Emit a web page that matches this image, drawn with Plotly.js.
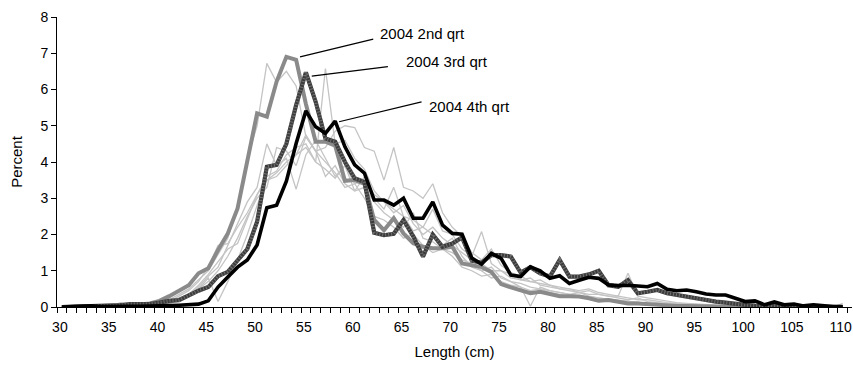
<!DOCTYPE html>
<html>
<head>
<meta charset="utf-8">
<script src="https://cdn.plot.ly/plotly-3.0.1.min.js"></script>
<style>html,body{margin:0;padding:0;background:#fff;}#chart{width:853px;height:372px;}</style>
</head>
<body>
<div id="chart"></div>
<script>
// Length classes (cm)
const lengths = Array.from({length: 81}, (_, i) => 30 + i);
const tickVals = [30, 35, 40, 45, 50, 55, 60, 65, 70, 75, 80, 85, 90, 95, 100, 105, 110];
const tickLabels = ["30","35","40","45","50","55","60","65","70","75","80","85","90","95","100","105","110"];

// Highlighted series (percent)
const q2_2004 = [
0.00,0.01,0.01,0.02,0.01,0.02,0.03,0.05,0.07,0.10,
0.17,0.30,0.45,0.60,0.93,1.07,1.57,2.03,2.72,4.05,
5.34,5.25,6.22,6.90,6.82,5.60,4.56,4.56,4.45,3.48,
3.50,3.40,2.40,2.12,2.45,2.03,1.76,1.66,1.62,1.62,
1.66,1.20,1.14,1.10,0.97,0.63,0.54,0.47,0.38,0.42,
0.35,0.30,0.30,0.29,0.24,0.17,0.19,0.15,0.10,0.10,
0.08,0.06,0.04,0.03,0.03,0.02,0.02,0.02,0.01,0.01,
0.01,0.01,0.01,0.00,0.00,0.00,0.00,0.00,0.00,0.00,0.00];
const q3_2004 = [
0.00,0.01,0.01,0.02,0.02,0.03,0.05,0.08,0.08,0.08,
0.12,0.17,0.19,0.33,0.45,0.55,0.85,0.97,1.30,1.60,
2.35,3.87,3.92,4.50,5.57,6.47,5.66,4.65,4.56,4.00,
3.55,3.45,2.05,1.98,2.02,2.40,1.95,1.39,2.00,1.66,
1.75,1.92,1.28,1.22,1.43,1.43,1.39,0.95,1.10,0.93,
0.84,1.30,0.84,0.84,0.90,1.00,0.60,0.56,0.74,0.38,
0.42,0.47,0.38,0.33,0.29,0.24,0.19,0.15,0.12,0.08,
0.06,0.04,0.03,0.02,0.02,0.02,0.01,0.01,0.01,0.01,0.00];
const q4_2004 = [
0.00,0.01,0.01,0.03,0.01,0.02,0.03,0.02,0.02,0.02,
0.03,0.04,0.05,0.06,0.08,0.17,0.55,0.83,1.10,1.30,
1.71,2.74,2.81,3.47,4.51,5.41,4.97,4.79,5.13,4.42,
3.92,3.69,2.95,2.95,2.81,3.00,2.45,2.45,2.90,2.26,
2.03,2.01,1.35,1.18,1.48,1.34,0.88,0.84,1.11,1.00,
0.79,0.86,0.65,0.74,0.82,0.79,0.61,0.59,0.60,0.58,
0.56,0.65,0.49,0.45,0.47,0.42,0.36,0.33,0.33,0.24,
0.15,0.17,0.06,0.14,0.06,0.08,0.03,0.06,0.03,0.01,0.01];

// Other quarters (background, light grey)
const other1 = [
0.00,0.00,0.00,0.00,0.01,0.02,0.03,0.04,0.05,0.08,
0.12,0.20,0.35,0.50,0.75,1.00,1.45,1.90,2.80,4.10,
5.00,6.72,6.20,6.50,6.10,4.70,4.30,4.00,3.70,3.30,
3.40,3.00,2.50,2.40,2.20,1.90,2.00,1.70,1.50,1.60,
1.40,1.10,1.00,0.85,0.90,0.70,0.60,0.55,0.45,0.50,
0.40,0.35,0.30,0.28,0.25,0.20,0.18,0.15,0.12,0.10,
0.08,0.06,0.05,0.04,0.03,0.03,0.02,0.02,0.01,0.01,
0.01,0.00,0.00,0.00,0.00,0.00,0.00,0.00,0.00,0.00,0.00];
const other2 = [
0.00,0.00,0.00,0.01,0.00,0.02,0.12,0.03,0.05,0.06,
0.10,0.15,0.25,0.35,0.50,0.80,0.15,0.70,1.30,2.00,
2.80,3.50,3.60,3.90,4.20,4.40,4.00,6.58,4.50,4.60,
4.10,3.80,3.20,2.90,2.70,2.50,2.10,2.20,2.00,1.70,
1.90,1.40,1.10,1.00,0.80,0.85,0.70,0.55,0.02,0.55,
0.45,0.40,0.35,0.40,0.30,0.25,0.20,0.18,0.15,0.12,
0.10,0.08,0.06,0.05,0.04,0.03,0.02,0.02,0.01,0.01,
0.01,0.01,0.00,0.00,0.00,0.00,0.00,0.00,0.00,0.00,0.00];
const other3 = [
0.00,0.00,0.01,0.00,0.01,0.01,0.02,0.02,0.03,0.04,
0.05,0.10,0.20,0.35,0.60,0.90,1.25,1.60,1.75,2.40,
3.10,3.50,3.70,4.00,4.20,4.75,4.30,4.40,4.85,5.00,
4.95,4.40,4.30,3.50,4.40,3.30,3.20,3.00,3.40,2.60,
2.20,1.95,1.50,1.30,1.60,1.15,0.95,0.85,0.70,0.75,
0.60,0.55,0.50,0.45,0.50,0.40,0.35,0.30,0.93,0.30,
0.25,0.20,0.15,0.12,0.10,0.08,0.06,0.05,0.04,0.03,
0.02,0.02,0.01,0.01,0.01,0.01,0.00,0.00,0.00,0.00,0.10];
const other4 = [
0.00,0.01,0.00,0.01,0.01,0.02,0.02,0.03,0.04,0.05,
0.08,0.12,0.20,0.30,0.55,0.85,1.10,1.70,2.30,2.90,
3.30,4.50,3.90,4.10,3.25,4.20,4.60,4.10,3.60,3.90,
3.20,3.60,3.00,2.70,3.30,2.50,2.40,2.20,2.70,2.10,
2.00,1.60,1.40,2.08,1.20,1.00,0.90,0.75,0.80,0.60,
0.55,0.50,0.50,0.40,0.35,0.35,0.30,0.25,0.20,0.25,
0.15,0.12,0.10,0.08,0.06,0.05,0.04,0.03,0.02,0.02,
0.01,0.01,0.01,0.00,0.00,0.00,0.00,0.00,0.00,0.00,0.00];
const other5 = [
0.00,0.00,0.00,0.01,0.01,0.01,0.02,0.03,0.04,0.06,
0.10,0.15,0.30,0.45,0.70,1.10,1.70,1.75,2.20,2.60,
3.10,3.60,3.75,4.20,4.40,4.50,4.00,3.80,3.55,3.90,
3.40,3.50,3.10,2.90,2.60,2.80,2.30,2.00,2.20,1.90,
1.70,1.50,1.30,1.20,1.00,1.00,0.80,0.75,0.70,0.65,
0.60,0.50,0.45,0.40,0.45,0.35,0.30,0.30,0.25,0.20,
0.20,0.15,0.12,0.10,0.08,0.06,0.05,0.04,0.03,0.02,
0.02,0.01,0.01,0.01,0.00,0.00,0.00,0.00,0.00,0.00,0.00];
const other6 = [
0.00,0.00,0.00,0.00,0.01,0.01,0.01,0.02,0.03,0.04,
0.06,0.10,0.20,0.30,0.50,0.70,1.00,1.40,1.90,2.50,
3.00,3.30,4.40,4.30,3.90,4.70,4.30,3.60,3.90,3.40,
3.20,3.30,2.90,2.60,2.40,2.20,2.60,1.90,1.80,1.60,
1.50,1.30,1.20,1.00,1.10,0.80,0.70,0.65,0.55,0.50,
0.45,0.40,0.35,0.30,0.28,0.25,0.20,0.18,0.15,0.12,
0.10,0.08,0.06,0.05,0.04,0.03,0.02,0.02,0.01,0.01,
0.01,0.00,0.00,0.00,0.00,0.00,0.00,0.00,0.00,0.00,0.00];

const others = [other1, other2, other3, other4, other5, other6];
const FONT = 'Liberation Sans, Arial, sans-serif';
const FS = 15;
const TFS = 14;

const traces = [];
others.forEach(s => traces.push({
  x: lengths, y: s, type: 'scatter', mode: 'lines',
  line: {color: '#c4c4c4', width: 1.3}, hoverinfo: 'skip', showlegend: false
}));
traces.push({x: lengths, y: q2_2004, type: 'scatter', mode: 'lines', name: '2004 2nd qrt',
  line: {color: '#8a8a8a', width: 4}, showlegend: false});
traces.push({x: lengths, y: q3_2004, type: 'scatter', mode: 'lines', name: '2004 3rd qrt',
  line: {color: '#3c3c3c', width: 4.2}, showlegend: false});
traces.push({x: lengths, y: q3_2004, type: 'scatter', mode: 'lines', hoverinfo: 'skip',
  line: {color: '#707070', width: 3.6, dash: '1px,2px'}, showlegend: false});
traces.push({x: lengths, y: q4_2004, type: 'scatter', mode: 'lines', name: '2004 4th qrt',
  line: {color: '#000000', width: 3.6}, showlegend: false});

const layout = {
  width: 853, height: 372,
  margin: {l: 57, r: 1, t: 17, b: 65},
  paper_bgcolor: '#fff', plot_bgcolor: '#fff',
  font: {family: FONT, size: FS, color: '#000'},
  showlegend: false,
  xaxis: {
    range: [29.5, 110.95], showgrid: false, zeroline: false,
    showline: true, linecolor: '#000', linewidth: 1,
    tickmode: 'array', tickvals: tickVals, ticktext: tickLabels,
    ticks: 'outside', ticklen: 7, tickcolor: 'rgba(0,0,0,0)',
    ticklabeloverflow: 'allow', ticklabelshift: -2,
    minor: {ticks: 'outside', tick0: 29.5, dtick: 1, ticklen: 5, tickcolor: '#000', tickwidth: 1, showgrid: false},
    tickfont: {family: FONT, size: TFS, color: '#000'},
    title: {text: 'Length (cm)', font: {family: FONT, size: FS, color: '#000'}, standoff: 12}
  },
  yaxis: {
    range: [0, 8], dtick: 1, showgrid: false, zeroline: false,
    showline: true, linecolor: '#000', linewidth: 1,
    ticks: 'outside', ticklen: 5, tickcolor: '#000',
    tickfont: {family: FONT, size: TFS, color: '#000'},
    title: {text: 'Percent', font: {family: FONT, size: FS, color: '#000'}, standoff: 14}
  },
  shapes: [
    {type: 'line', xref: 'x', yref: 'y', x0: 54.4, y0: 6.9, x1: 61.9, y1: 7.39, line: {color: '#000', width: 1.2}},
    {type: 'line', xref: 'x', yref: 'y', x0: 55.6, y0: 6.37, x1: 63.4, y1: 6.63, line: {color: '#000', width: 1.2}},
    {type: 'line', xref: 'x', yref: 'y', x0: 58.4, y0: 5.11, x1: 66.85, y1: 5.66, line: {color: '#000', width: 1.2}}
  ],
  annotations: [
    {text: '2004 2nd qrt', x: 62.4, y: 7.55, xref: 'x', yref: 'y', xanchor: 'left', yanchor: 'middle', showarrow: false, font: {family: FONT, size: FS, color: '#000'}},
    {text: '2004 3rd qrt', x: 65.1, y: 6.77, xref: 'x', yref: 'y', xanchor: 'left', yanchor: 'middle', showarrow: false, font: {family: FONT, size: FS, color: '#000'}},
    {text: '2004 4th qrt', x: 67.45, y: 5.54, xref: 'x', yref: 'y', xanchor: 'left', yanchor: 'middle', showarrow: false, font: {family: FONT, size: FS, color: '#000'}}
  ]
};

Plotly.newPlot('chart', traces, layout, {displayModeBar: false, staticPlot: true});
</script>
</body>
</html>
